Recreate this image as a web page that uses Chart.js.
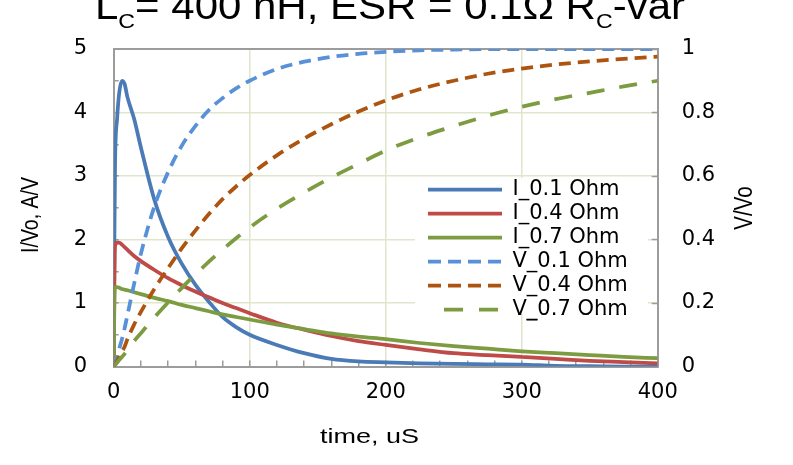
<!DOCTYPE html>
<html>
<head>
<meta charset="utf-8">
<title>Lc = 400 nH, ESR = 0.1 Ohm, Rc var</title>
<script src="https://cdn.jsdelivr.net/npm/chart.js@4.4.1/dist/chart.umd.min.js"></script>
<style>
  html, body { margin: 0; padding: 0; background: #fff; }
  #wrap { position: relative; width: 793px; height: 465px; overflow: hidden; }
</style>
</head>
<body>
<div id="wrap"><canvas id="chart" width="793" height="465"></canvas></div>
<script>
// time axis (uS), shared by all series
const timeUs = [0, 0.5, 1, 2.5, 4, 6, 8, 10, 15, 20, 30, 40, 50, 60, 70, 80, 90, 100,
  120, 140, 160, 180, 200, 225, 250, 275, 300, 325, 350, 375, 400];

// current, I/Vo (left axis)
const i01 = [0, 2.0, 3.2, 3.9, 4.3, 4.5, 4.45, 4.25, 3.9, 3.45, 2.62, 2.04, 1.62, 1.29, 1.02, 0.78, 0.62, 0.5,
  0.34, 0.21, 0.12, 0.08, 0.065, 0.05, 0.04, 0.035, 0.03, 0.01, 0.005, 0, 0];
const i04 = [0, 1.3, 1.9, 1.95, 1.95, 1.92, 1.88, 1.84, 1.74, 1.66, 1.52, 1.39, 1.28, 1.18, 1.09, 1.0, 0.92, 0.84,
  0.69, 0.58, 0.48, 0.4, 0.34, 0.27, 0.21, 0.18, 0.15, 0.12, 0.09, 0.07, 0.05];
const i07 = [0, 1.0, 1.25, 1.25, 1.24, 1.22, 1.21, 1.2, 1.17, 1.14, 1.08, 1.03, 0.97, 0.92, 0.87, 0.82, 0.78, 0.74,
  0.66, 0.59, 0.52, 0.47, 0.43, 0.37, 0.32, 0.28, 0.24, 0.21, 0.18, 0.15, 0.13];

// voltage, V/Vo (right axis)
const v01 = [0, 0.005, 0.01, 0.03, 0.055, 0.085, 0.12, 0.16, 0.26, 0.355, 0.505, 0.612, 0.695, 0.757, 0.808, 0.845, 0.876, 0.9,
  0.937, 0.96, 0.975, 0.985, 0.991, 0.996, 0.998, 1, 1, 1, 1, 1, 1];
const v04 = [0, 0.003, 0.006, 0.018, 0.03, 0.046, 0.062, 0.085, 0.132, 0.172, 0.245, 0.31, 0.372, 0.428, 0.48, 0.527, 0.567, 0.603,
  0.665, 0.718, 0.763, 0.803, 0.838, 0.873, 0.9, 0.922, 0.938, 0.951, 0.961, 0.969, 0.976];
const v07 = [0, 0.002, 0.005, 0.012, 0.02, 0.03, 0.04, 0.052, 0.08, 0.105, 0.155, 0.202, 0.247, 0.29, 0.33, 0.368, 0.404, 0.438,
  0.497, 0.548, 0.595, 0.638, 0.68, 0.722, 0.757, 0.79, 0.818, 0.842, 0.862, 0.882, 0.9];

const seriesNames = ['I_0.1 Ohm', 'I_0.4 Ohm', 'I_0.7 Ohm', 'V_0.1 Ohm', 'V_0.4 Ohm', 'V_0.7 Ohm'];
const xTicks = [0, 100, 200, 300, 400];
const yTicks = [0, 1, 2, 3, 4, 5];
const y1Ticks = [0, 0.2, 0.4, 0.6, 0.8, 1];

const GRID = 'rgb(222,231,203)';
const AXIS = '#9c9c9c';
const FONT = 'DejaVu Sans';
const TFONT = '"Liberation Sans"';

function pts(arr) {
  return timeUs.map((t, i) => ({ x: t, y: arr[i] }));
}

function line(label, arr, color, axis, dash, order) {
  return {
    label: label,
    data: pts(arr),
    yAxisID: axis,
    borderColor: color,
    backgroundColor: color,
    borderWidth: 3.75,
    borderDash: dash,
    borderCapStyle: 'butt',
    pointRadius: 0,
    cubicInterpolationMode: 'monotone',
    fill: false,
    order: order
  };
}

// legend sits inside the plot, on a white patch over the grid
const legendInside = {
  id: 'legendInside',
  afterLayout(chart) {
    const lg = chart.legend;
    lg.left = 425;
    lg.top = 176;
    lg.right = 660;
    lg.bottom = 330;
  },
  afterDatasetsDraw(chart) {
    const ctx = chart.ctx;
    ctx.save();
    ctx.fillStyle = '#fff';
    ctx.fillRect(415, 178, 233, 136);
    ctx.restore();
    chart.legend.draw();
  }
};

// text stretched sideways, like the original picture
function wideText(ctx, str, x, y, font, width) {
  ctx.font = font;
  const sx = width / ctx.measureText(str).width;
  ctx.save();
  ctx.translate(x, y);
  ctx.scale(sx, 1);
  ctx.fillText(str, 0, 0);
  ctx.restore();
}

// title with subscripts and axis titles
const texts = {
  id: 'texts',
  afterDraw(chart) {
    const ctx = chart.ctx;
    ctx.save();
    ctx.fillStyle = '#000';

    const parts = [['L', 0], ['C', 1], ['= 400 nH, ESR = 0.1\u03A9 R', 0], ['C', 1], ['-var', 0]];
    const big = '38px ' + TFONT;
    const small = '21px ' + TFONT;
    let w = 0;
    parts.forEach(p => { ctx.font = p[1] ? small : big; w += ctx.measureText(p[0]).width; });
    const sx = 590 / w;
    ctx.save();
    ctx.translate(95, 0);
    ctx.scale(sx, 1);
    ctx.textAlign = 'left';
    ctx.textBaseline = 'alphabetic';
    let x = 0;
    parts.forEach(p => {
      ctx.font = p[1] ? small : big;
      ctx.fillText(p[0], x, p[1] ? 28 : 19);
      x += ctx.measureText(p[0]).width;
    });
    ctx.restore();

    ctx.textAlign = 'center';
    ctx.textBaseline = 'middle';
    wideText(ctx, 'time, uS', 369.5, 437, '21px ' + TFONT, 99);

    ctx.save();
    ctx.translate(31.5, 215);
    ctx.rotate(-Math.PI / 2);
    ctx.scale(1, 1.22);
    ctx.font = '19.5px ' + TFONT;
    ctx.fillText('I/Vo, A/V', 0, 0);
    ctx.restore();

    ctx.save();
    ctx.translate(745.5, 208);
    ctx.rotate(-Math.PI / 2);
    ctx.scale(1, 1.22);
    ctx.font = '20.5px ' + TFONT;
    ctx.fillText('V/Vo', 0, 0);
    ctx.restore();

    ctx.restore();
  }
};

Chart.defaults.font.family = FONT;
Chart.defaults.color = '#000';

new Chart(document.getElementById('chart'), {
  type: 'line',
  data: {
    datasets: [
      line(seriesNames[0], i01, '#4a7bb7', 'y', [], 6),
      line(seriesNames[1], i04, '#be4b48', 'y', [], 5),
      line(seriesNames[2], i07, '#7d9c41', 'y', [], 4),
      line(seriesNames[3], v01, '#5891d8', 'y1', [12, 7], 3),
      line(seriesNames[4], v04, '#ad5510', 'y1', [12, 7], 2),
      line(seriesNames[5], v07, '#7d9c41', 'y1', [18, 15], 1)
    ]
  },
  options: {
    responsive: false,
    animation: false,
    layout: { padding: { top: 49, left: 0, right: 0, bottom: 0 } },
    plugins: {
      title: { display: false },
      tooltip: { enabled: false },
      legend: {
        position: 'chartArea',
        align: 'start',
        labels: {
          usePointStyle: true,
          pointStyle: 'line',
          pointStyleWidth: 74,
          boxHeight: 20,
          padding: 3,
          color: '#000',
          font: { family: FONT, size: 21 },
          generateLabels: chart => {
            const items = Chart.defaults.plugins.legend.labels.generateLabels(chart);
            items.forEach(it => {
              const ds = chart.data.datasets[it.datasetIndex];
              it.pointStyle = 'line';
              it.strokeStyle = ds.borderColor;
              it.lineWidth = ds.borderWidth;
              it.lineCap = 'butt';
              it.lineDash = ds.borderDash.length ? (ds.borderDash[0] > 15 ? [19, 16] : [13, 7]) : [];
              it.lineDashOffset = ds.borderDash.length && ds.borderDash[0] > 15 ? 19 : 0;
            });
            return items;
          },
          sort: (a, b) => a.datasetIndex - b.datasetIndex
        }
      }
    },
    scales: {
      x: {
        type: 'linear',
        min: xTicks[0],
        max: xTicks[xTicks.length - 1],
        afterFit: s => { s.height = 98.5; },
        ticks: {
          stepSize: 20,
          autoSkip: false,
          maxRotation: 0,
          padding: 19,
          font: { size: 21 },
          callback: v => xTicks.includes(v) ? String(v) : ''
        },
        grid: {
          color: c => (c.tick && xTicks.includes(c.tick.value) && c.tick.value > 0 && c.tick.value < 400) ? GRID : 'rgba(0,0,0,0)',
          lineWidth: 1.5,
          tickLength: -6,
          tickColor: AXIS,
          tickWidth: 1.5
        },
        border: { display: true, color: AXIS, width: 2 }
      },
      y: {
        type: 'linear',
        position: 'left',
        min: yTicks[0],
        max: yTicks[yTicks.length - 1],
        afterFit: s => { s.width = 113.7; },
        ticks: {
          stepSize: 0.5,
          autoSkip: false,
          padding: 31.5,
          font: { size: 21 },
          callback: v => yTicks.includes(v) ? String(v) : ''
        },
        grid: {
          color: c => {
            if (!c.tick) return 'rgba(0,0,0,0)';
            const v = c.tick.value;
            if (v === 5) return AXIS;
            return (yTicks.includes(v) && v > 0) ? GRID : 'rgba(0,0,0,0)';
          },
          lineWidth: c => (c.tick && c.tick.value === 5) ? 2 : 1.5,
          tickLength: -5,
          tickColor: AXIS,
          tickWidth: 1.5
        },
        border: { display: true, color: AXIS, width: 2 }
      },
      y1: {
        type: 'linear',
        position: 'right',
        min: y1Ticks[0],
        max: y1Ticks[y1Ticks.length - 1],
        afterFit: s => { s.width = 135.3; },
        ticks: {
          stepSize: 0.2,
          autoSkip: false,
          padding: 30,
          font: { size: 21 },
          callback: v => String(Number(v.toFixed(1)))
        },
        grid: {
          drawOnChartArea: false,
          tickLength: -6,
          tickColor: AXIS,
          tickWidth: 1.5
        },
        border: { display: true, color: AXIS, width: 2 }
      }
    }
  },
  plugins: [legendInside, texts]
});
</script>
</body>
</html>
